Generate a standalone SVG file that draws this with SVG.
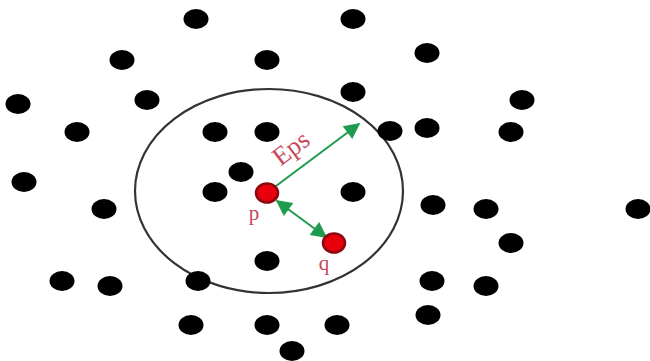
<svg xmlns="http://www.w3.org/2000/svg" width="650" height="361" viewBox="0 0 650 361">
<style>
.pt{fill:#000}
.core{fill:#e8000c;stroke:#8a0a10;stroke-width:2.5}
.lbl{fill:#c8485a;font-family:"Liberation Serif","DejaVu Serif",serif}
.ar{stroke:#1e9b4e;stroke-width:2;fill:none}
</style>
<defs>
<marker id="ahb" viewBox="0 0 10 10" refX="9" refY="5" markerWidth="20" markerHeight="16" markerUnits="userSpaceOnUse" orient="auto-start-reverse">
<path d="M0,0 L10,5 L0,10 z" fill="#1e9b4e"/>
</marker>
</defs>
<rect width="650" height="361" fill="#fff"/>
<g id="eps-circle"><ellipse cx="269" cy="191" rx="134" ry="102" fill="none" stroke="#333" stroke-width="2.2"/></g>
<g id="points">
<ellipse class="pt" cx="196" cy="19" rx="12.5" ry="10"/>
<ellipse class="pt" cx="353" cy="19" rx="12.5" ry="10"/>
<ellipse class="pt" cx="122" cy="60" rx="12.5" ry="10"/>
<ellipse class="pt" cx="267" cy="60" rx="12.5" ry="10"/>
<ellipse class="pt" cx="427" cy="53" rx="12.5" ry="10"/>
<ellipse class="pt" cx="18" cy="104" rx="12.5" ry="10"/>
<ellipse class="pt" cx="147" cy="100" rx="12.5" ry="10"/>
<ellipse class="pt" cx="353" cy="92" rx="12.5" ry="10"/>
<ellipse class="pt" cx="522" cy="100" rx="12.5" ry="10"/>
<ellipse class="pt" cx="77" cy="132" rx="12.5" ry="10"/>
<ellipse class="pt" cx="215" cy="132" rx="12.5" ry="10"/>
<ellipse class="pt" cx="267" cy="132" rx="12.5" ry="10"/>
<ellipse class="pt" cx="390" cy="131" rx="12.5" ry="10"/>
<ellipse class="pt" cx="427" cy="128" rx="12.5" ry="10"/>
<ellipse class="pt" cx="511" cy="132" rx="12.5" ry="10"/>
<ellipse class="pt" cx="241" cy="172" rx="12.5" ry="10"/>
<ellipse class="pt" cx="24" cy="182" rx="12.5" ry="10"/>
<ellipse class="pt" cx="215" cy="192" rx="12.5" ry="10"/>
<ellipse class="pt" cx="353" cy="192" rx="12.5" ry="10"/>
<ellipse class="pt" cx="104" cy="209" rx="12.5" ry="10"/>
<ellipse class="pt" cx="433" cy="205" rx="12.5" ry="10"/>
<ellipse class="pt" cx="486" cy="209" rx="12.5" ry="10"/>
<ellipse class="pt" cx="638" cy="209" rx="12.5" ry="10"/>
<ellipse class="pt" cx="511" cy="243" rx="12.5" ry="10"/>
<ellipse class="pt" cx="267" cy="261" rx="12.5" ry="10"/>
<ellipse class="pt" cx="62" cy="281" rx="12.5" ry="10"/>
<ellipse class="pt" cx="110" cy="286" rx="12.5" ry="10"/>
<ellipse class="pt" cx="198" cy="281" rx="12.5" ry="10"/>
<ellipse class="pt" cx="432" cy="281" rx="12.5" ry="10"/>
<ellipse class="pt" cx="486" cy="286" rx="12.5" ry="10"/>
<ellipse class="pt" cx="191" cy="325" rx="12.5" ry="10"/>
<ellipse class="pt" cx="267" cy="325" rx="12.5" ry="10"/>
<ellipse class="pt" cx="337" cy="325" rx="12.5" ry="10"/>
<ellipse class="pt" cx="428" cy="315" rx="12.5" ry="10"/>
<ellipse class="pt" cx="292" cy="351" rx="12.5" ry="10"/>
</g>
<g id="connectors">
<line class="ar" x1="276" y1="186" x2="359" y2="124" marker-end="url(#ahb)"/>
<line class="ar" x1="277" y1="201" x2="326" y2="237" marker-start="url(#ahb)" marker-end="url(#ahb)"/>
</g>
<g id="p"><ellipse class="core" cx="267" cy="193" rx="11" ry="9.5"/><text class="lbl" x="254" y="220" font-size="21" text-anchor="middle">p</text></g>
<g id="q"><ellipse class="core" cx="334" cy="243" rx="11" ry="9.5"/><text class="lbl" x="324" y="270" font-size="21" text-anchor="middle">q</text></g>
<g id="eps-label"><text class="lbl" x="296" y="155" font-size="26" text-anchor="middle" transform="rotate(-37 296 155)">Eps</text></g>
</svg>
